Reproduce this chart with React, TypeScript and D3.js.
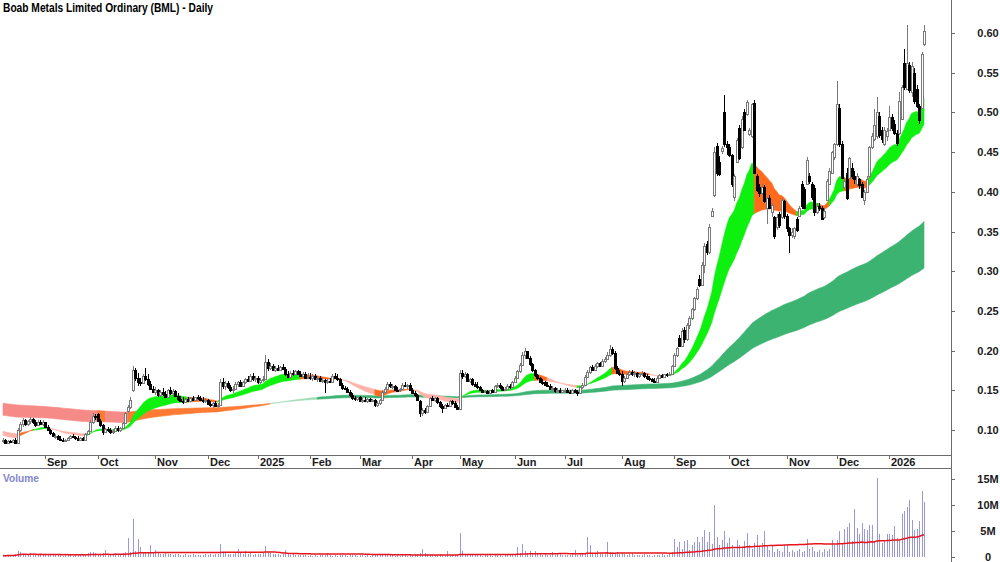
import React from "react";
import * as d3 from "d3";

// trading calendar
const firstDay = "2024-08-08";
const lastDay = "2026-01-22";
const holidays = ["2024-12-25", "2024-12-26", "2025-01-01", "2025-01-27", "2025-04-18", "2025-04-21",
  "2025-04-25", "2025-06-09", "2025-12-25", "2025-12-26", "2026-01-01"];

// daily [open, high, low, close] in cents
const aug24 = [[8.6,9.0,8.4,8.8],[8.8,8.9,8.3,8.4],[8.4,8.7,8.2,8.6],[8.6,8.8,8.4,8.5],[8.5,8.9,8.3,8.7],[8.7,9.0,8.3,8.4],[8.4,10.2,8.4,10.0],[10.0,11.0,9.8,10.8],[10.8,11.5,10.4,11.2],[11.2,11.4,10.5,10.7],[10.7,11.3,10.5,11.1],[11.1,11.6,10.8,11.4],[11.4,11.5,10.8,11.0],[11.0,11.2,10.4,10.6],[10.6,11.2,10.5,11.0],[11.0,11.3,10.6,10.8],[10.8,11.2,10.5,11.0]];
const sep24 = [[11.0,11.0,10.2,10.4],[10.4,10.6,9.9,10.0],[10.0,10.1,9.4,9.6],[9.6,9.7,9.1,9.2],[9.2,9.5,8.9,9.3],[9.3,9.4,8.8,8.9],[8.9,9.2,8.6,8.8],[8.8,9.0,8.6,8.7],[8.7,8.9,8.5,8.8],[8.8,9.1,8.7,9.0],[9.0,9.4,8.9,9.3],[9.3,9.5,9.0,9.1],[9.1,9.3,8.8,9.0],[9.0,9.2,8.7,8.8],[8.8,9.1,8.7,9.0],[9.0,9.1,8.6,8.8],[8.8,9.6,8.8,9.5],[9.5,10.0,9.4,9.9],[9.9,11.2,9.8,11.0],[11.0,12.2,10.8,11.8],[11.8,12.0,11.2,11.6]];
const oct24 = [[12.0,12.2,11.0,11.1],[11.1,11.4,10.4,10.6],[10.6,10.8,9.4,9.7],[9.7,10.3,9.6,10.1],[10.1,10.4,9.8,10.0],[10.0,10.3,9.5,9.8],[9.8,10.1,9.5,9.9],[9.9,10.5,9.8,10.3],[10.3,10.5,9.8,10.0],[10.0,10.4,9.8,10.2],[10.2,11.0,10.1,10.9],[10.9,12.3,10.8,12.1],[12.4,13.2,12.2,12.9],[12.9,14.2,12.6,13.8],[15.0,18.0,14.8,17.5],[17.5,17.8,16.2,16.5],[16.5,17.2,15.6,16.0],[16.0,16.5,15.5,15.9],[15.9,17.0,15.8,16.8],[16.8,17.8,16.2,16.4],[16.4,17.0,15.6,15.8],[15.8,16.2,15.0,15.2],[15.2,15.6,14.6,14.8]];
const nov24 = [[14.8,15.4,14.4,15.0],[15.0,15.2,14.2,14.4],[14.4,15.0,14.1,14.8],[14.8,15.3,14.3,14.5],[14.5,14.9,14.0,14.2],[14.2,15.2,14.1,15.0],[15.0,15.4,14.4,14.6],[14.6,15.2,14.2,14.9],[14.9,15.1,14.1,14.3],[14.3,14.6,13.7,13.9],[13.9,14.3,13.5,13.7],[13.7,14.1,13.3,13.5],[13.5,14.0,13.4,13.9],[13.9,14.2,13.5,13.7],[13.7,14.1,13.6,14.0],[14.0,14.3,13.7,13.8],[13.8,14.2,13.6,14.1],[14.1,14.4,13.8,14.0],[14.0,14.3,13.6,13.8],[13.8,14.1,13.4,13.6],[13.6,14.0,13.4,13.8]];
const dec24 = [[13.8,13.9,13.1,13.3],[13.3,13.6,12.9,13.1],[13.1,13.5,12.8,13.4],[13.4,13.6,12.9,13.0],[13.0,13.4,12.8,13.2],[13.2,16.4,13.2,16.0],[16.0,16.5,15.2,15.5],[15.5,16.2,15.0,15.9],[15.9,16.2,15.2,15.4],[15.4,15.7,14.8,15.0],[15.0,15.5,14.7,15.2],[15.2,16.0,15.0,15.8],[15.8,16.2,15.4,16.0],[16.0,16.3,15.5,15.6],[15.6,16.2,15.4,16.1],[16.1,16.6,15.8,16.4],[16.4,16.8,16.0,16.2],[16.2,17.0,16.0,16.8],[16.8,17.2,16.2,16.4],[16.4,16.8,16.0,16.5]];
const jan25 = [[16.5,16.8,15.8,16.0],[16.0,16.6,15.8,16.3],[16.3,16.8,16.0,16.4],[16.4,19.4,16.3,18.6],[18.6,18.9,17.4,17.8],[17.8,18.4,17.5,18.1],[18.1,18.3,17.4,17.6],[17.6,18.0,17.3,17.8],[17.8,18.2,17.5,17.6],[17.6,18.1,17.4,17.9],[17.9,18.3,17.5,17.7],[17.7,17.9,16.8,17.0],[17.0,17.4,16.5,16.7],[16.7,17.4,16.6,17.2],[17.2,17.5,16.8,17.0],[17.0,17.6,16.9,17.4],[17.4,17.6,16.9,17.1],[17.1,17.4,16.7,16.8],[16.8,17.3,16.5,17.1],[17.1,17.3,16.4,16.6],[16.6,17.2,16.4,16.7]];
const feb25 = [[16.7,17.2,16.3,16.5],[16.5,17.0,16.2,16.8],[16.8,17.0,16.3,16.4],[16.4,16.8,16.1,16.6],[16.6,16.8,16.0,16.2],[16.2,16.5,15.9,16.3],[16.3,16.4,14.7,16.0],[16.0,16.4,15.8,16.2],[16.2,16.5,15.9,16.1],[16.1,17.0,16.0,16.8],[16.8,17.2,16.4,16.6],[16.6,17.0,16.2,16.4],[16.4,16.5,15.5,15.7],[15.7,15.9,15.1,15.3],[15.3,15.6,15.0,15.2],[15.2,15.4,14.6,14.8],[14.8,15.0,14.2,14.4],[14.4,14.6,13.8,14.0],[14.0,14.3,13.7,13.9],[13.9,14.2,13.6,14.1]];
const mar25 = [[14.1,14.3,13.5,13.7],[13.7,14.0,13.4,13.8],[13.8,14.1,13.5,13.6],[13.6,14.0,13.4,13.9],[13.9,14.0,13.5,13.7],[13.7,13.9,13.5,13.8],[13.8,13.9,12.9,13.1],[13.1,13.6,12.9,13.4],[13.4,13.9,13.2,13.8],[13.8,15.0,13.7,14.8],[14.8,15.4,14.5,15.2],[15.2,16.0,15.0,15.8],[15.8,16.1,15.3,15.5],[15.5,15.8,15.2,15.6],[15.6,15.7,14.9,15.1],[15.1,15.4,14.8,15.0],[15.0,15.3,14.8,15.2],[15.2,15.9,15.1,15.7],[15.7,16.0,15.4,15.5],[15.5,15.8,15.2,15.7],[15.7,15.9,15.0,15.1]];
const apr25 = [[15.1,15.3,14.5,14.7],[14.7,14.9,14.2,14.4],[14.4,14.5,13.6,13.8],[13.6,13.8,11.6,12.2],[12.2,12.8,11.8,12.5],[12.5,12.8,12.0,12.3],[12.3,13.2,12.2,13.0],[13.0,14.2,12.9,14.0],[14.0,14.3,13.6,13.8],[13.8,14.2,13.5,14.0],[14.0,14.1,13.3,13.5],[13.5,13.7,12.8,13.0],[13.0,13.3,12.2,12.8],[12.8,13.3,12.7,13.1],[13.1,13.4,12.9,13.0],[13.0,13.8,12.9,13.6],[13.6,13.8,13.2,13.4],[13.4,13.6,12.8,12.9],[12.9,13.2,12.5,12.7]];
const may25 = [[12.7,17.5,12.6,17.2],[17.2,17.5,16.4,16.8],[16.8,17.3,16.6,17.1],[17.1,17.2,16.0,16.2],[16.2,16.6,15.9,16.4],[16.4,16.5,15.6,15.8],[15.8,16.1,15.4,15.6],[15.6,16.0,15.2,15.4],[15.4,15.6,14.9,15.0],[15.0,15.2,14.6,14.8],[14.8,15.1,14.6,14.9],[14.9,15.0,14.5,14.7],[14.7,15.1,14.6,15.0],[15.0,15.2,14.6,14.8],[14.8,15.7,14.7,15.5],[15.5,15.9,15.3,15.7],[15.7,15.9,15.2,15.4],[15.4,15.6,14.9,15.1],[15.1,15.4,14.9,15.2],[15.2,15.8,15.1,15.6],[15.6,15.8,15.2,15.4],[15.4,16.2,15.3,16.0]];
const jun25 = [[16.0,16.8,15.9,16.6],[16.6,17.6,16.5,17.4],[17.4,18.4,17.2,18.2],[18.2,19.8,18.0,19.5],[19.5,20.3,19.0,19.9],[19.9,20.0,18.9,19.1],[19.1,19.3,18.1,18.3],[18.3,18.5,17.3,17.5],[17.5,17.7,16.7,16.9],[16.9,17.1,16.3,16.5],[16.5,16.7,15.9,16.1],[16.1,16.4,15.7,16.0],[16.0,16.2,15.5,15.7],[15.7,16.0,15.4,15.6],[15.6,15.8,15.1,15.2],[15.2,15.5,14.9,15.3],[15.3,15.4,14.7,14.9],[14.9,15.3,14.7,15.1],[15.1,15.3,14.7,14.8],[14.8,15.1,14.6,15.0]];
const jul25 = [[15.0,15.3,14.6,15.1],[15.1,15.3,14.7,14.8],[14.8,15.1,14.5,14.7],[14.7,15.2,14.6,15.0],[15.0,15.2,14.6,14.8],[14.8,15.0,14.3,14.6],[14.6,15.6,14.5,15.4],[15.4,15.9,15.2,15.7],[15.7,16.9,15.6,16.7],[16.7,17.5,16.5,17.3],[17.3,18.1,17.1,17.9],[17.9,18.2,17.4,17.6],[17.6,18.3,17.5,18.1],[18.1,18.6,17.8,18.4],[18.4,18.6,17.9,18.1],[18.1,18.9,18.0,18.7],[18.7,19.2,18.4,18.9],[18.9,19.8,18.8,19.5],[19.5,20.7,19.2,20.2],[20.2,20.5,19.4,19.7],[19.7,19.9,17.6,17.8],[17.8,18.0,17.0,17.2],[17.2,17.6,16.8,17.0]];
const aug25 = [[17.0,17.4,15.6,16.2],[16.2,16.8,15.9,16.6],[16.6,17.2,16.4,17.0],[17.0,17.6,16.8,17.3],[17.3,17.5,16.8,17.0],[17.0,17.4,16.7,17.2],[17.2,17.3,16.6,16.8],[16.8,17.2,16.6,17.1],[17.1,17.4,16.8,17.2],[17.2,17.3,16.6,16.8],[16.8,17.0,16.3,16.5],[16.5,16.8,16.2,16.4],[16.4,16.6,16.0,16.2],[16.2,16.5,15.9,16.1],[16.1,16.8,16.0,16.6],[16.6,17.0,16.4,16.9],[16.9,17.1,16.5,16.7],[16.7,17.1,16.6,17.0],[17.0,17.2,16.7,16.9],[16.9,17.3,16.8,17.1],[17.1,18.2,17.0,18.0]];
const sep25 = [[18.0,19.7,17.9,19.5],[19.5,20.5,19.2,20.3],[21.6,22.0,20.4,20.6],[20.6,22.8,20.5,22.5],[22.6,23.0,21.0,21.4],[21.4,23.5,21.2,23.2],[23.2,24.4,22.7,24.1],[24.1,25.4,23.9,25.2],[25.2,26.8,25.0,26.6],[26.6,28.0,26.4,27.8],[29.0,29.5,28.0,28.3],[28.3,31.2,28.2,30.8],[30.8,33.6,29.8,33.2],[33.4,33.8,32.0,32.4],[32.4,36.0,32.2,35.6],[37.0,37.9,36.8,37.6],[39.6,45.6,39.4,45.0],[45.8,46.2,42.0,42.4],[43.8,44.5,42.0,42.2],[45.2,45.8,44.8,45.5],[50.0,52.2,45.6,46.0],[46.0,46.4,44.6,45.6]];
const oct25 = [[45.6,46.0,44.4,44.6],[44.6,44.8,40.6,41.0],[39.4,42.2,38.8,42.0],[43.8,46.8,43.6,46.5],[48.0,48.4,44.0,44.2],[45.6,49.6,45.4,49.2],[50.0,50.4,47.6,47.8],[49.8,51.6,49.6,51.3],[47.3,48.0,47.0,47.8],[47.0,51.2,46.8,51.0],[51.2,51.6,42.2,42.4],[42.0,42.2,40.0,40.2],[40.6,41.0,39.4,39.8],[39.8,41.0,39.6,40.6],[40.6,40.8,38.6,38.8],[38.0,39.4,36.0,39.2],[39.2,39.6,37.8,38.0],[37.4,38.6,36.8,38.4],[36.8,37.0,34.0,34.4],[35.6,37.2,35.2,36.8],[37.2,37.4,35.4,35.8],[36.8,39.2,36.6,39.0],[38.8,39.0,36.6,37.0]];
const nov25 = [[37.0,37.2,35.0,35.4],[35.4,35.6,32.3,34.6],[34.6,35.4,34.2,35.0],[34.4,35.6,34.0,35.4],[36.6,36.8,35.0,35.2],[37.0,38.2,36.8,38.0],[41.0,41.4,37.8,38.2],[40.4,40.6,37.8,38.0],[41.0,44.4,40.8,44.0],[42.0,42.4,41.0,41.4],[41.0,41.2,39.0,39.4],[40.5,40.8,37.0,37.5],[37.5,38.6,37.2,38.2],[38.2,38.6,37.6,38.0],[38.0,38.2,36.4,36.6],[36.8,38.0,36.6,37.6],[39.0,41.6,38.8,41.4],[41.0,43.0,40.8,42.6],[42.4,45.2,42.2,45.0],[44.4,46.2,44.0,46.0]];
const dec25 = [[46.0,54.0,45.8,51.0],[50.6,51.0,45.6,46.0],[46.0,46.4,41.6,41.8],[40.6,41.8,40.4,41.4],[42.4,43.0,39.0,39.2],[41.8,44.4,41.6,44.2],[43.0,43.6,41.6,42.0],[42.0,42.6,41.0,41.6],[41.0,42.4,40.6,42.0],[41.6,41.8,40.4,40.8],[41.0,41.2,39.2,39.4],[39.0,40.2,38.4,40.0],[40.0,42.0,39.8,41.6],[42.0,45.8,41.8,45.6],[45.6,47.4,45.4,47.0],[46.6,50.4,46.4,48.4],[47.0,52.0,46.6,50.0],[49.6,50.0,46.8,47.2],[47.8,48.2,46.2,46.6],[46.0,48.2,45.8,47.8],[47.0,48.0,46.4,47.6]];
const jan26 = [[47.8,50.8,47.6,49.4],[49.4,49.8,47.6,48.0],[48.6,49.0,47.2,47.4],[47.4,47.8,45.8,46.2],[47.4,52.6,47.2,51.4],[49.2,53.4,49.0,53.2],[56.2,58.0,52.8,53.2],[53.0,61.0,52.8,56.2],[56.0,56.4,52.4,52.8],[52.6,56.4,52.0,55.8],[55.0,55.6,51.0,51.4],[53.0,53.4,50.6,50.8],[50.8,51.0,48.6,49.0],[50.6,57.6,50.4,57.4],[58.6,61.0,58.4,60.2]];

// daily volume, millions of shares
const volAug24 = [0.3,0.2,0.4,0.3,0.2,0.5,1.2,0.9,0.6,0.5,0.4,0.8,0.5,0.3,0.4,0.6,0.3];
const volSep24 = [0.4,0.3,0.5,0.3,0.6,0.4,0.3,0.2,0.5,0.3,0.4,0.2,0.3,0.5,0.3,0.4,0.6,0.8,1.0,0.9,0.7];
const volOct24 = [0.6,0.5,0.7,1.3,0.4,0.3,0.4,0.8,0.5,0.6,0.8,1.0,3.7,0.9,7.3,1.1,3.5,2.0,0.9,0.8,0.7,2.3,0.9];
const volNov24 = [1.3,0.7,0.6,0.5,0.8,0.6,0.5,0.4,0.6,0.5,0.4,0.3,0.5,0.4,0.3,0.5,0.4,0.3,0.4,0.3,0.5];
const volDec24 = [0.4,0.5,0.3,0.6,0.5,2.5,0.9,0.7,0.6,0.5,0.6,0.8,1.5,0.7,0.6,1.1,0.5,0.7,0.4,0.5];
const volJan25 = [0.5,0.6,0.8,2.1,0.9,0.7,0.6,0.5,0.6,0.4,0.5,1.3,0.6,0.4,0.5,0.3,0.4,0.3,0.4,0.3,0.2];
const volFeb25 = [0.3,0.2,0.3,0.2,0.3,0.4,0.3,0.8,0.3,0.2,0.3,0.2,0.3,0.4,0.3,0.2,0.3,0.4,0.3,0.2];
const volMar25 = [0.3,0.4,0.2,0.3,0.2,0.3,0.5,0.3,0.4,0.6,0.5,0.3,0.4,0.3,0.2,0.3,0.2,0.4,0.3,0.2,0.3];
const volApr25 = [0.3,0.4,0.6,0.8,1.5,0.7,0.5,0.6,0.4,0.3,0.4,0.5,0.4,0.3,1.1,0.4,0.3,0.4,0.3];
const volMay25 = [4.6,1.2,0.6,0.5,0.4,0.5,0.3,0.4,0.3,0.2,0.3,0.4,0.3,0.2,0.3,0.4,0.3,0.2,0.3,0.4,0.3,0.5];
const volJun25 = [0.6,2.0,0.8,2.5,1.2,0.8,1.2,0.6,1.2,0.5,0.6,0.4,0.5,0.3,0.4,1.0,0.4,0.5,0.8,0.3];
const volJul25 = [0.3,0.4,0.3,0.5,1.3,0.4,0.6,0.8,0.7,3.8,2.3,0.6,0.5,1.2,0.7,0.8,0.6,2.9,1.0,0.9,0.8,1.0,0.6];
const volAug25 = [0.7,0.5,0.4,0.5,0.8,0.4,0.3,0.4,0.3,0.5,0.4,0.3,0.2,0.3,0.4,0.3,0.5,0.3,0.4,0.6,1.0];
const volSep25 = [3.5,2.0,2.9,1.5,3.0,3.2,1.3,2.3,2.8,3.8,2.9,3.8,5.2,2.9,4.9,2.5,10.0,3.8,2.3,3.2,5.0,2.6];
const volOct25 = [3.6,2.4,1.6,3.2,2.4,2.0,3.0,4.7,2.4,1.5,2.6,4.2,1.9,2.7,5.0,2.1,1.3,2.4,1.0,1.6,1.2,0.9,2.3];
const volNov25 = [2.3,1.0,1.3,0.9,1.2,1.5,0.9,1.1,3.5,1.6,2.0,1.2,0.9,1.3,1.0,1.5,1.2,1.6,3.3,2.4];
const volDec25 = [3.3,5.0,2.6,5.3,5.8,6.5,3.0,9.3,5.6,4.4,6.5,5.4,5.2,6.2,6.2,2.8,15.2,4.4,2.6,3.0,4.5];
const volJan26 = [4.4,4.2,6.0,3.6,3.2,8.2,8.9,9.7,10.9,7.1,5.1,5.3,6.9,12.6,10.6];

// ribbon trend states (first date of each run)
const shortTrend: [string, string][] = [
  ["2024-08-08", "weak"], ["2024-08-19", "down"], ["2024-08-26", "up"], ["2024-09-04", "weak"],
  ["2024-09-24", "up"], ["2024-11-20", "down"], ["2024-12-06", "up"], ["2025-01-28", "down"],
  ["2025-02-19", "weak"], ["2025-03-11", "down"], ["2025-04-01", "weak"], ["2025-05-02", "up"],
  ["2025-06-13", "down"], ["2025-06-20", "weak"], ["2025-07-08", "up"], ["2025-07-28", "down"],
  ["2025-08-18", "weak"], ["2025-08-27", "up"], ["2025-10-15", "down"], ["2025-11-07", "up"],
  ["2025-11-20", "down"], ["2025-11-26", "up"], ["2025-12-04", "down"], ["2025-12-18", "up"],
];
const longTrend: [string, string][] = [
  ["2024-08-08", "weak"], ["2024-10-01", "down"], ["2024-10-04", "weak"], ["2024-10-17", "down"],
  ["2025-01-09", "turn"], ["2025-02-06", "up"],
];

const priceTicks = [0.10, 0.15, 0.20, 0.25, 0.30, 0.35, 0.40, 0.45, 0.50, 0.55, 0.60];
const volumeTicks = [0, 5, 10, 15];
const monthNames = ["Jan", "Feb", "Mar", "Apr", "May", "Jun", "Jul", "Aug", "Sep", "Oct", "Nov", "Dec"];

const shortColors: Record<string, string> = { up: "#0ef00e", down: "#ff6a1c", weak: "#ffb3a8" };
const longColors: Record<string, string> = { up: "#3cb371", turn: "#a3dcb6", down: "#ff7a32", weak: "#f58a86" };

function tradingDays(from: string, to: string): string[] {
  const out: string[] = [];
  const d = new Date(from + "T00:00:00Z");
  const end = new Date(to + "T00:00:00Z");
  while (d <= end) {
    const iso = d.toISOString().slice(0, 10);
    const wd = d.getUTCDay();
    if (wd !== 0 && wd !== 6 && holidays.indexOf(iso) < 0) out.push(iso);
    d.setUTCDate(d.getUTCDate() + 1);
  }
  return out;
}

function ema(values: number[], period: number, seed: number): number[] {
  const k = 2 / (period + 1);
  let e = seed;
  return values.map(v => (e = e + k * (v - e)));
}

function sma(values: number[], period: number): number[] {
  return values.map((_, i) => d3.mean(values.slice(Math.max(0, i - period + 1), i + 1)) as number);
}

function statesFor(dates: string[], trend: [string, string][]): string[] {
  return dates.map(d => {
    let s = trend[0][1];
    for (const [from, st] of trend) if (from <= d) s = st;
    return s;
  });
}

function runs(states: string[]) {
  const out: { state: string; from: number; to: number }[] = [];
  let s = 0;
  for (let i = 1; i <= states.length; i++) {
    if (i === states.length || states[i] !== states[s]) {
      out.push({ state: states[s], from: s, to: Math.min(i, states.length - 1) });
      s = i;
    }
  }
  return out;
}

const FONT = "'Liberation Sans', Arial, Helvetica, sans-serif";

export default function App() {
  const dates = tradingDays(firstDay, lastDay);
  const candles = [aug24, sep24, oct24, nov24, dec24, jan25, feb25, mar25, apr25, may25, jun25, jul25, aug25,
    sep25, oct25, nov25, dec25, jan26].flat().map(r => r.map(v => v / 100));
  const volume = [volAug24, volSep24, volOct24, volNov24, volDec24, volJan25, volFeb25, volMar25, volApr25,
    volMay25, volJun25, volJul25, volAug25, volSep25, volOct25, volNov25, volDec25, volJan26].flat();
  if (candles.length !== dates.length) console.warn("length mismatch", candles.length, dates.length);

  const axisX = 951;
  const x = d3.scalePoint<string>().domain(dates).range([3, 924]);
  const y = d3.scaleLinear().domain([0.10, 0.60]).range([430, 33]);
  const yv = d3.scaleLinear().domain([0, 15]).range([557, 479]);

  const closes = candles.map(c => c[3]);
  const shortFast = ema(closes, 18, 0.094);
  const shortSlow = ema(closes, 36, 0.099);
  const longFast = ema(closes, 150, 0.119);
  const longSlow = ema(closes, 250, 0.134);
  const volAvg = sma(volume, 60);

  const band = (a: number[], b: number[]) =>
    d3.area<number>().x(i => x(dates[i]) as number).y0(i => y(a[i])).y1(i => y(b[i]));
  const longArea = band(longFast, longSlow);
  const shortArea = band(shortFast, shortSlow);
  const idx = (r: { from: number; to: number }) => d3.range(r.from, r.to + 1);

  const volLine = d3.line<number>().x((_, i) => x(dates[i]) as number).y(v => yv(v));

  const monthStarts = dates
    .map((d, i) => ({ d, i }))
    .filter(({ d, i }) => i > 0 && d.slice(5, 7) !== dates[i - 1].slice(5, 7));

  return (
    <svg width={1000} height={562} style={{ position: "absolute", left: 0, top: 0, background: "#fff" }}
      fontFamily={FONT}>
      <defs>
        <clipPath id="pricePanel"><rect x={0} y={0} width={axisX} height={455} /></clipPath>
      </defs>

      <g clipPath="url(#pricePanel)">
        {runs(statesFor(dates, longTrend)).map((r, k) => (
          <path key={"l" + k} d={longArea(idx(r)) as string} fill={longColors[r.state]}
            stroke={longColors[r.state]} strokeWidth={0.6} />
        ))}
        {runs(statesFor(dates, shortTrend)).map((r, k) => (
          <path key={"s" + k} d={shortArea(idx(r)) as string} fill={shortColors[r.state]}
            stroke={shortColors[r.state]} strokeWidth={0.6} />
        ))}
        {candles.map((c, i) => {
          const cx = Math.round(x(dates[i]) as number);
          const [o, h, l, cl] = c;
          const up = cl >= o;
          const top = Math.round(y(Math.max(o, cl)));
          const bot = Math.round(y(Math.min(o, cl)));
          const col = up ? "#7a7a7a" : "#000";
          return (
            <g key={i} shapeRendering="crispEdges">
              <line x1={cx + 0.5} x2={cx + 0.5} y1={y(h)} y2={y(l)} stroke={col} strokeWidth={1} />
              <rect x={cx - 0.5} y={top + 0.5} width={2} height={Math.max(bot - top, 1)}
                fill={up ? "#fff" : "#000"} stroke={col} strokeWidth={1} />
            </g>
          );
        })}
      </g>

      <text x={3} y={12} fontSize={12.5} fontWeight="bold" fill="#000" textLength={210}
        lengthAdjust="spacingAndGlyphs">Boab Metals Limited Ordinary (BML) - Daily</text>

      {/* frame */}
      <g stroke="#6b6b6b" strokeWidth={1} shapeRendering="crispEdges">
        <line x1={0} x2={axisX} y1={455.5} y2={455.5} />
        <line x1={0} x2={axisX} y1={468.5} y2={468.5} />
        <line x1={axisX + 0.5} x2={axisX + 0.5} y1={0} y2={562} />
      </g>

      {/* month axis */}
      {monthStarts.map(({ d }) => {
        const cx = Math.round(x(d) as number);
        const m = +d.slice(5, 7) - 1;
        return (
          <g key={d}>
            <line x1={cx + 0.5} x2={cx + 0.5} y1={455} y2={459} stroke="#6b6b6b" shapeRendering="crispEdges" />
            <text x={cx + 2} y={466} fontSize={11} fontWeight="bold" fill="#1a1a1a">
              {m === 0 ? d.slice(0, 4) : monthNames[m]}
            </text>
          </g>
        );
      })}

      {/* price axis */}
      {priceTicks.map(t => (
        <g key={t}>
          <line x1={axisX + 1} x2={axisX + 4} y1={Math.round(y(t)) + 0.5} y2={Math.round(y(t)) + 0.5}
            stroke="#6b6b6b" shapeRendering="crispEdges" />
          <text x={988} y={y(t) + 4} fontSize={11} fontWeight="bold" fill="#1a1a1a" textAnchor="middle">
            {t.toFixed(2)}
          </text>
        </g>
      ))}

      {/* volume panel */}
      <text x={3} y={482} fontSize={11} fontWeight="bold" fill="#8585cc" textLength={36}
        lengthAdjust="spacingAndGlyphs">Volume</text>
      <g shapeRendering="crispEdges" fill="#9999da">
        {volume.map((v, i) => {
          const cx = Math.round(x(dates[i]) as number);
          return <rect key={i} x={cx} y={yv(v)} width={1} height={yv(0) - yv(v)} />;
        })}
      </g>
      <path d={volLine(volAvg) as string} fill="none" stroke="#e8141a" strokeWidth={1.5} />
      {volumeTicks.map(t => (
        <g key={t}>
          <line x1={axisX + 1} x2={axisX + 4} y1={Math.round(yv(t)) + 0.5} y2={Math.round(yv(t)) + 0.5}
            stroke="#6b6b6b" shapeRendering="crispEdges" />
          <text x={988} y={yv(t) + 4} fontSize={11} fontWeight="bold" fill="#1a1a1a" textAnchor="middle">
            {t === 0 ? "0" : t + "M"}
          </text>
        </g>
      ))}
    </svg>
  );
}
